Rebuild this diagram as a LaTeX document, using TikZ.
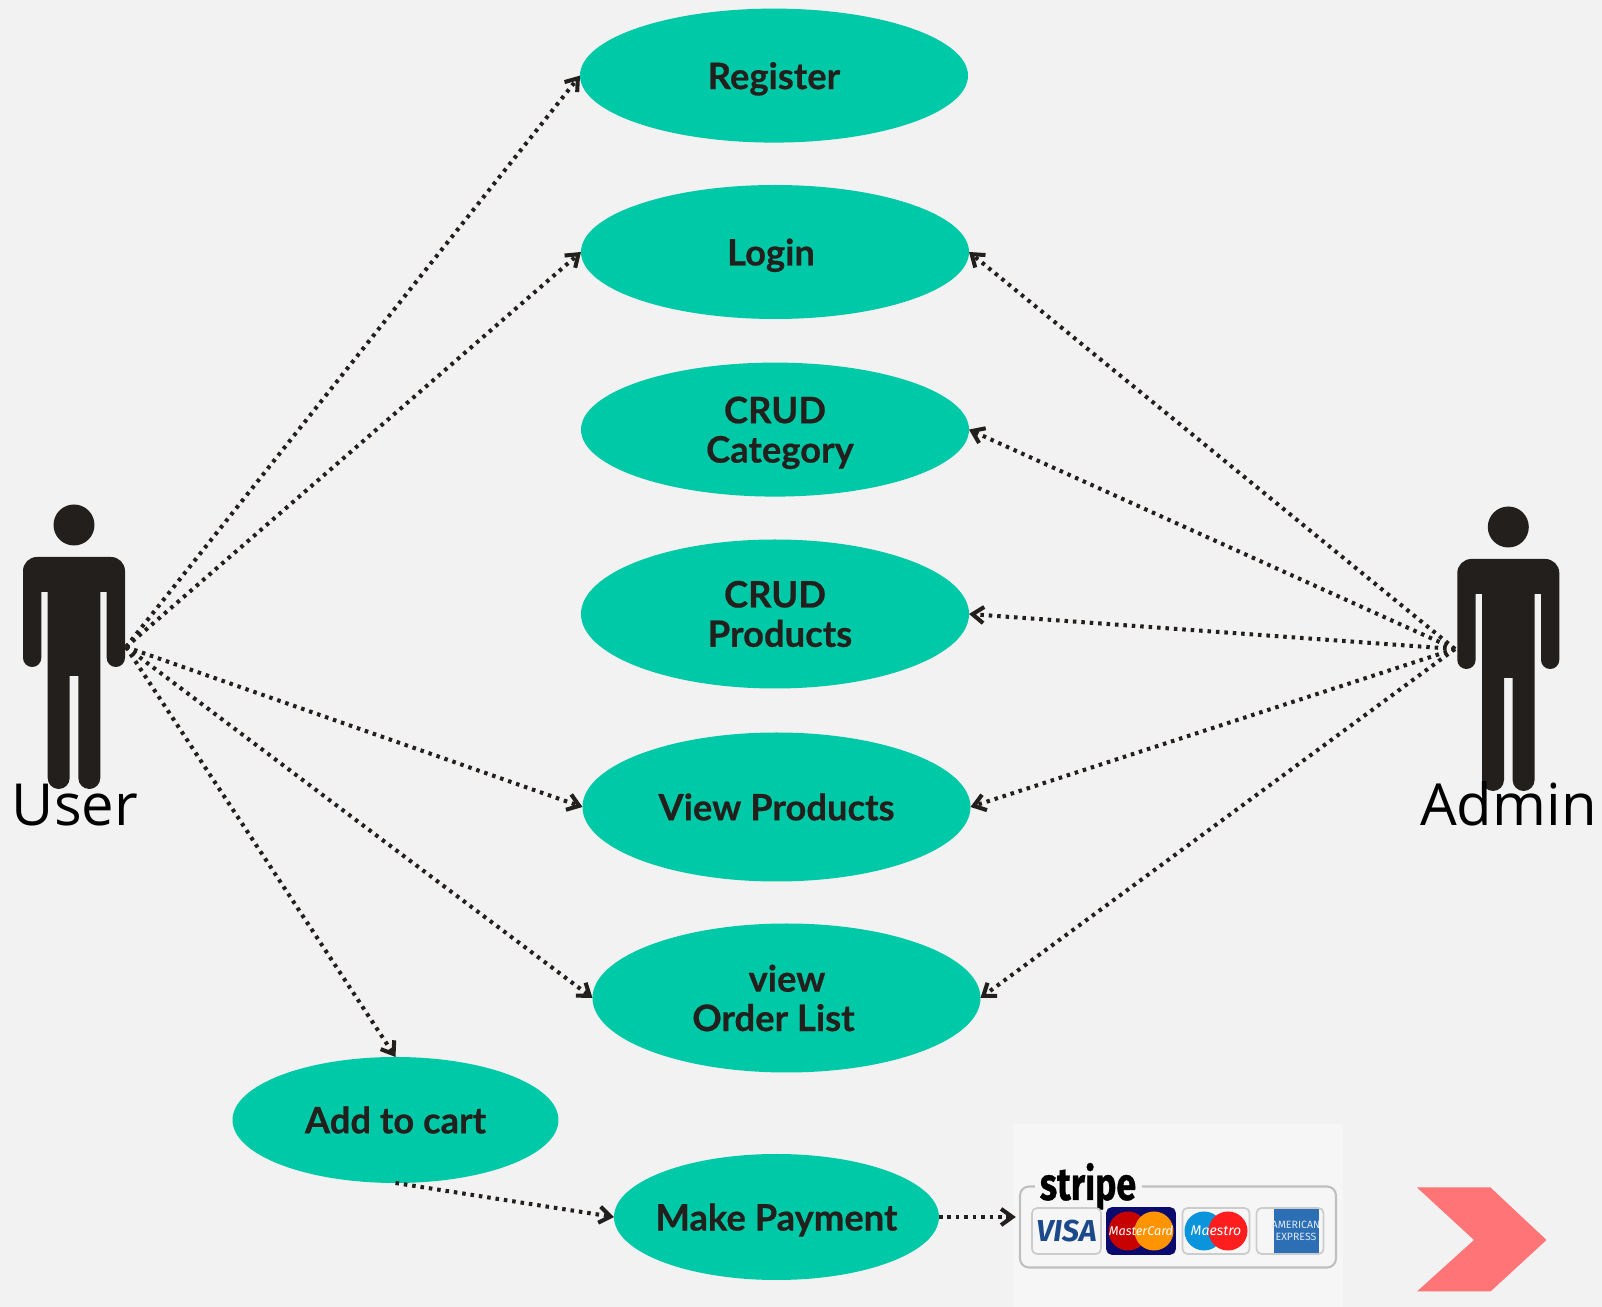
\documentclass[tikz,border=0pt]{standalone}
\usepackage{fontspec}
\setmainfont{Lato}[BoldFeatures={FakeBold=0.5}]
\newfontfamily\actorfont{Open Sans}
\newfontfamily\logofont{Fira Sans}[BoldFeatures={FakeBold=0.8}]
\usetikzlibrary{arrows.meta}
\usetikzlibrary{shapes.geometric}
\definecolor{canvasgray}{HTML}{F2F2F2}
\definecolor{stripegray}{HTML}{F6F6F6}
\definecolor{casegreen}{HTML}{00C9A7}
\definecolor{inkblack}{HTML}{231F1C}
\definecolor{chevronred}{HTML}{FF7477}
\definecolor{cardnavy}{HTML}{1A4A8A}
\definecolor{masternavy}{HTML}{0A0A6E}
\definecolor{amexblue}{HTML}{2C6FB5}
\tikzset{>={Straight Barb[length=3.2pt,width=4.6pt]}}
\tikzset{
  usecase/.style={ellipse, fill=casegreen, text=inkblack, inner sep=0pt, outer sep=0pt, align=center,
    minimum width=38.8mm, minimum height=13.4mm, font=\fontsize{10.35pt}{11.2pt}\selectfont\bfseries},
  tallcase/.style={usecase, minimum height=14.9mm},
  smallcase/.style={usecase, minimum width=32.5mm, minimum height=12.6mm},
  link/.style={->, draw=inkblack, line width=1.15pt, dash pattern=on 1pt off 1.4pt},
  actorlabel/.style={anchor=base, font=\actorfont\fontsize{16.5pt}{18pt}\selectfont, text=black, inner sep=0pt},
  cardbox/.style={draw=black!20, fill=stripegray, line width=.5pt, rounded corners=.5mm, inner sep=0pt, minimum height=4.6mm},
  cardtext/.style={inner sep=0pt, font=\logofont\itshape\fontsize{3.6pt}{4pt}\selectfont, text=white}
}
\newcommand{\nodepth}[1]{\raisebox{0pt}[\height][0pt]{#1}}
\newcommand{\drawactor}[2]{
  \fill[inkblack] (#1,#2) circle (2.05mm);
  \begin{scope}[shift={(#1,#2)}]
    \fill[inkblack] (0,32) [rounded corners=1.4mm] -- (51,32) -- (51,60) [rounded corners=.91mm] -- (51,142)
      -- (32.7,142) [sharp corners] -- (32.7,67) -- (26.3,67) [rounded corners=1.1mm] -- (26.3,264)
      -- (4.3,264) [sharp corners] -- (4.3,151) -- (-4.3,151) [rounded corners=1.1mm] -- (-4.3,264)
      -- (-26.3,264) [sharp corners] -- (-26.3,67) -- (-32.7,67) [rounded corners=.91mm] -- (-32.7,142)
      -- (-51,142) -- (-51,60) [rounded corners=1.4mm] -- (-51,32) -- cycle;
  \end{scope}
}
\begin{document}
\begin{tikzpicture}[x=0.1mm, y=-0.1mm]
  \fill[canvasgray] (0,0) rectangle (1602,1307);
  \useasboundingbox (0,0) rectangle (1602,1307);

  % actors
  \drawactor{74}{525}
  \drawactor{1508.3}{527}
  \node[actorlabel] (userlabel) at (75,826) {User};
  \node[actorlabel] (adminlabel) at (1508.5,826) {Admin};
  \coordinate (userhand) at (126,647);
  \coordinate (adminhand) at (1455,649);

  % use cases
  \node[usecase] (register) at (774,75.6) {\nodepth{Register}};
  \node[usecase] (login) at (775,252) {\nodepth{Login}\hspace*{.8mm}};
  \node[usecase] (category) at (775,429.6) {CRUD\\\hspace*{1mm}\nodepth{Category}};
  \node[tallcase] (products) at (775,614) {CRUD\\\hspace*{1mm}Products};
  \node[tallcase] (viewprod) at (776.5,807) {View Products};
  \node[tallcase] (orders) at (786.5,998) {\hspace*{.1mm}view\\Order List\hspace*{2.6mm}};
  \node[smallcase, minimum width=32.6mm] (cart) at (395.5,1120) {Add to cart};
  \node[smallcase] (payment) at (776.5,1217) {\makebox[0pt]{\nodepth{Make Payment}}};

  % stripe badge
  \node[rectangle, fill=stripegray, minimum width=33mm, minimum height=18.3mm, inner sep=0pt] (stripe) at (1178,1215.5) {};
  \node[draw=black!25, line width=.6pt, rounded corners=.9mm, minimum width=31.6mm, minimum height=8.1mm, inner sep=0pt] (badge) at (1178,1227) {};
  \node[fill=stripegray, minimum width=10.7mm, minimum height=1.4mm, inner sep=0pt] (badgegap) at (1088.5,1187) {};
  \node[inner sep=0pt, anchor=base, xscale=.78, font=\logofont\bfseries\fontsize{13pt}{13pt}\selectfont] (stripename) at (1088,1200) {stripe};
  \node[cardbox, minimum width=6.9mm] (visa) at (1066.5,1231) {};
  \node[cardtext, text=cardnavy, font=\logofont\bfseries\itshape\fontsize{8.6pt}{9pt}\selectfont] (visatext) at (visa) {VISA};
  \node[cardbox, minimum width=6.8mm, fill=masternavy, draw=masternavy] (mastercard) at (1141,1231) {};
  \fill[red!78!black] (1128,1231) circle (1.95mm);
  \fill[orange!85!yellow] (1154,1231) circle (1.95mm);
  \node[cardtext] (mastertext) at (mastercard) {MasterCard};
  \node[cardbox, minimum width=6.7mm] (maestro) at (1216,1231) {};
  \fill[cyan!80!blue] (1204,1231) circle (1.95mm);
  \fill[red!85!pink] (1228,1231) circle (1.95mm);
  \node[cardtext, font=\logofont\itshape\fontsize{4pt}{4pt}\selectfont] (maestrotext) at (maestro) {Maestro};
  \node[cardbox, minimum width=6.7mm] (amex) at (1290,1231) {};
  \fill[amexblue] (1274,1209) rectangle (1319,1253);
  \node[cardtext, text=white!85!amexblue, font=\logofont\fontsize{3pt}{3.4pt}\selectfont, align=center] (amextext) at (1296,1231) {AMERICAN\\EXPRESS};

  % chevron
  \fill[chevronred] (1417,1187.5) -- (1490.5,1187.5) -- (1546.5,1240) -- (1490.5,1291.5) -- (1417,1291.5) -- (1474,1240) -- cycle;

  % links
  \draw[link] (userhand) -- (register.west);
  \draw[link] (userhand) -- (login.west);
  \draw[link] (userhand) -- (viewprod.west);
  \draw[link] (userhand) -- (orders.west);
  \draw[link] (userhand) -- (cart.north);
  \draw[link] (adminhand) -- (login.east);
  \draw[link] (adminhand) -- (category.east);
  \draw[link] (adminhand) -- (products.east);
  \draw[link] (adminhand) -- (viewprod.east);
  \draw[link] (adminhand) -- (orders.east);
  \draw[link] (cart.south) -- (payment.west);
  \draw[link] (payment.east) -- ([xshift=.35mm]payment.east -| stripe.west);
\end{tikzpicture}
\end{document}
